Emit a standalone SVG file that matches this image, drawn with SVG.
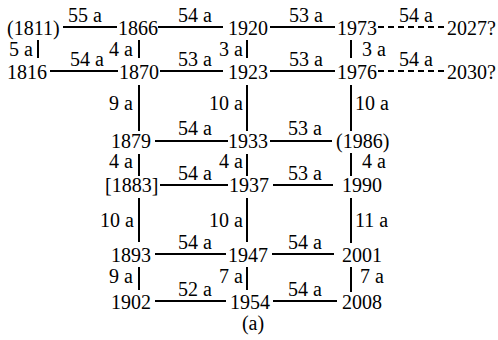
<svg xmlns="http://www.w3.org/2000/svg" width="498" height="340" viewBox="0 0 498 340">
<style>
text{font-family:"Liberation Serif","Times New Roman",serif;font-size:20px;fill:#000}
.l{text-anchor:middle}
.e{text-anchor:end}
line{stroke:#000;stroke-width:2}
.d{stroke-dasharray:6 4}
</style>
<rect width="498" height="340" fill="#fff"/>
<g id="connectors">
<line x1="63" y1="27" x2="117" y2="27"/><line x1="158" y1="27" x2="223" y2="27"/><line x1="270" y1="27" x2="335" y2="27"/><line class="d" x1="378" y1="27" x2="444" y2="27"/>
<line x1="50" y1="71" x2="118" y2="71"/><line x1="160" y1="71" x2="223" y2="71"/><line x1="270" y1="71" x2="335" y2="71"/><line class="d" x1="378" y1="71" x2="444" y2="71"/>
<line x1="155" y1="141" x2="228" y2="141"/><line x1="270" y1="141" x2="332" y2="141"/>
<line x1="160" y1="185" x2="228" y2="185"/><line x1="273" y1="185" x2="333" y2="185"/>
<line x1="155" y1="254" x2="226" y2="254"/><line x1="272" y1="254" x2="334" y2="254"/>
<line x1="155" y1="301" x2="226" y2="301"/><line x1="273" y1="301" x2="337" y2="301"/>
<line x1="38" y1="40" x2="38" y2="58"/>
<line x1="139" y1="40" x2="139" y2="58"/><line x1="139" y1="85" x2="139" y2="131"/><line x1="139" y1="154" x2="139" y2="176"/><line x1="139" y1="198" x2="139" y2="242"/><line x1="139" y1="267" x2="139" y2="290"/>
<line x1="247" y1="40" x2="247" y2="58"/><line x1="247" y1="85" x2="247" y2="131"/><line x1="247" y1="154" x2="247" y2="176"/><line x1="247" y1="198" x2="247" y2="242"/><line x1="247" y1="267" x2="247" y2="290"/>
<line x1="351" y1="40" x2="351" y2="58"/><line x1="351" y1="85" x2="351" y2="131"/><line x1="351" y1="153" x2="351" y2="176"/><line x1="351" y1="198" x2="351" y2="243"/><line x1="351" y1="267" x2="351" y2="292"/>
<g id="edge-labels">
<text class="l" x="85" y="22">55 a</text><text class="l" x="195" y="22">54 a</text><text class="l" x="306" y="22">53 a</text><text class="l" x="416" y="22">54 a</text>
<text class="l" x="87" y="66">54 a</text><text class="l" x="195" y="66">53 a</text><text class="l" x="306" y="66">53 a</text><text class="l" x="416" y="66">54 a</text>
<text class="l" x="195" y="135">54 a</text><text class="l" x="305" y="135">53 a</text>
<text class="l" x="195" y="180">54 a</text><text class="l" x="305" y="180">53 a</text>
<text class="l" x="195" y="249">54 a</text><text class="l" x="305" y="249">54 a</text>
<text class="l" x="195" y="296">52 a</text><text class="l" x="305" y="296">54 a</text>
<text class="e" x="33" y="56">5 a</text>
<text class="e" x="133" y="56">4 a</text><text class="e" x="133" y="110">9 a</text><text class="e" x="133" y="168">4 a</text><text class="e" x="134" y="227">10 a</text><text class="e" x="133" y="283">9 a</text>
<text class="e" x="243" y="56">3 a</text><text class="e" x="243" y="110">10 a</text><text class="e" x="243" y="168">4 a</text><text class="e" x="243" y="227">10 a</text><text class="e" x="243" y="283">7 a</text>
<text x="362" y="56">3 a</text><text x="355" y="110">10 a</text><text x="362" y="168">4 a</text><text x="355" y="227">11 a</text><text x="360" y="283">7 a</text>
</g>
</g>
<g id="n1811"><text x="7" y="35">(1811)</text></g>
<g id="n1866"><text x="118" y="35">1866</text></g>
<g id="n1920"><text x="228" y="35">1920</text></g>
<g id="n1973"><text x="337" y="35">1973</text></g>
<g id="n2027"><text x="447" y="35">2027?</text></g>
<g id="n1816"><text x="7" y="79">1816</text></g>
<g id="n1870"><text x="119" y="79">1870</text></g>
<g id="n1923"><text x="228" y="79">1923</text></g>
<g id="n1976"><text x="337" y="79">1976</text></g>
<g id="n2030"><text x="447" y="79">2030?</text></g>
<g id="n1879"><text x="111" y="148">1879</text></g>
<g id="n1933"><text x="228" y="148">1933</text></g>
<g id="n1986"><text x="336" y="148">(1986)</text></g>
<g id="n1883"><text x="105" y="192">[1883]</text></g>
<g id="n1937"><text x="229" y="192">1937</text></g>
<g id="n1990"><text x="342" y="192">1990</text></g>
<g id="n1893"><text x="111" y="262">1893</text></g>
<g id="n1947"><text x="228" y="262">1947</text></g>
<g id="n2001"><text x="342" y="262">2001</text></g>
<g id="n1902"><text x="111" y="309">1902</text></g>
<g id="n1954"><text x="230" y="309">1954</text></g>
<g id="n2008"><text x="342" y="309">2008</text></g>
<g id="caption"><text class="l" x="253" y="330">(a)</text></g>
</svg>
